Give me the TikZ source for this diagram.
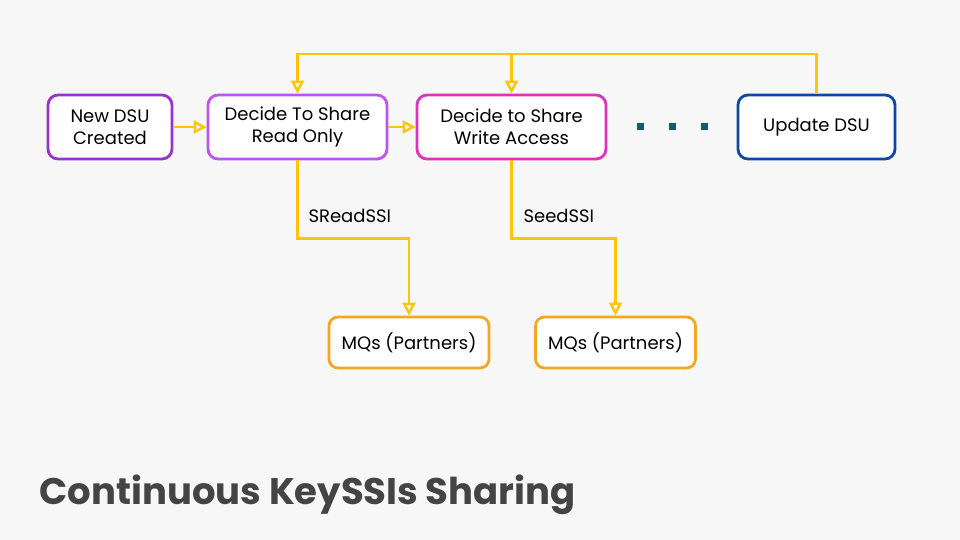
\documentclass[tikz,border=0pt]{standalone}
\usepackage{fontspec}
\setmainfont{Poppins}
\usetikzlibrary{arrows.meta}
\definecolor{bgcol}{HTML}{F7F7F7}
\definecolor{flowcol}{HTML}{FFC40C}
\definecolor{newcol}{HTML}{9933CC}
\definecolor{readcol}{HTML}{BB55EE}
\definecolor{writecol}{HTML}{DD33BB}
\definecolor{updcol}{HTML}{0D47A1}
\definecolor{mqcol}{HTML}{F5A623}
\definecolor{dotcol}{HTML}{0E5E6F}
\definecolor{titlecol}{HTML}{444444}

\begin{document}
\begin{tikzpicture}[x=1pt,y=-1pt,
  stepbox/.style={rectangle, rounded corners=10pt, fill=white, line width=2.8pt,
    minimum height=64pt, align=center, font=\fontsize{18}{22}\selectfont},
  mqbox/.style={rectangle, rounded corners=9pt, fill=white, line width=2.8pt,
    minimum width=160pt, minimum height=51pt, draw=mqcol, font=\fontsize{18}{22}\selectfont},
  flow/.style={draw=flowcol, line width=2.8pt, -{Triangle[open, length=13pt, width=13pt, line width=2.4pt]}},
  dotsq/.style={fill=dotcol, minimum size=7pt, inner sep=0pt}]
\useasboundingbox[fill=bgcol] (0,0) rectangle (960,540);

% top row
\node[stepbox, draw=newcol, minimum width=124pt] (new) at (110,127) {New DSU\\Created};
\node[stepbox, draw=readcol, minimum width=179pt] (ro) at (297.5,127) {Decide To Share\\Read Only};
\node[stepbox, draw=writecol, minimum width=189pt] (wa) at (511.5,127) {Decide to Share\\Write Access};
\node[stepbox, draw=updcol, minimum width=157pt] (upd) at (816.5,127) {Update DSU};

\node[dotsq] (d1) at (640,127) {};
\node[dotsq] (d2) at (672,127) {};
\node[dotsq] (d3) at (704,127) {};

% partners
\node[mqbox] (mq1) at (409,342.5) {MQs (Partners)};
\node[mqbox] (mq2) at (615.5,342.5) {MQs (Partners)};

% connectors
\draw[flow] (new) -- (ro);
\draw[flow] (ro) -- (wa);
\coordinate (loop) at (wa.north |- 0,54);
\draw[flow] (upd.north) |- (loop) -| (ro.north);
\draw[flow] (loop) -- (wa.north);
\draw[flow] (ro.south) -- ++(0,78) -| (mq1.north);
\draw[flow] (wa.south) -- ++(0,78) -| (mq2.north);

\node[anchor=west, font=\fontsize{18}{22}\selectfont] (sread) at (305,216) {SReadSSI};
\node[anchor=west, font=\fontsize{18}{22}\selectfont] (seed) at (520,216) {SeedSSI};

% title
\node[anchor=west, text=titlecol, font=\fontsize{37}{42}\selectfont\bfseries] (title) at (36,495) {Continuous KeySSIs Sharing};
\end{tikzpicture}
\end{document}
